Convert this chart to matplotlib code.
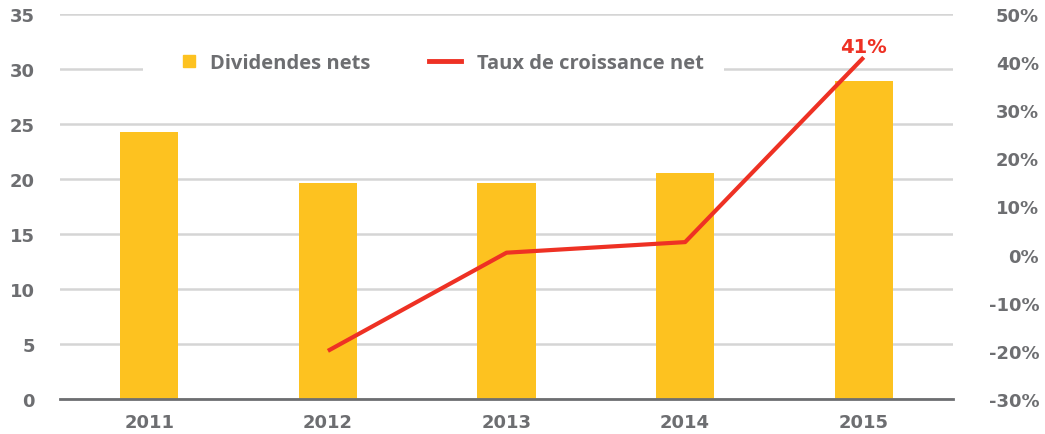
import matplotlib
matplotlib.use('Agg')
import matplotlib.pyplot as plt
from matplotlib.lines import Line2D
from matplotlib.patches import Patch, Rectangle
from matplotlib.legend_handler import HandlerPatch

years = ['2011', '2012', '2013', '2014', '2015']
dividendes = [24.3, 19.6, 19.6, 20.5, 28.9]
croissance_years = ['2012', '2013', '2014', '2015']
croissance = [-20.0, 0.4, 2.6, 41.0]

yellow = '#FDC220'
red = '#EE3124'
grey = '#6D6E71'
grid_grey = '#D5D5D5'

plt.rcParams['font.family'] = ['DejaVu Sans']

fig = plt.figure(figsize=(10.45, 4.35), dpi=100)
ax = fig.add_axes([0.0574, 0.0805, 0.8546, 0.885])

x = list(range(len(years)))
ax.bar(x, dividendes, width=0.325, color=yellow, zorder=2)
ax.set_xlim(-0.5, len(years) - 0.5)
ax.set_ylim(0, 35)
ax.set_yticks(range(0, 36, 5))
ax.set_xticks(x)
ax.set_xticklabels(years)
ax.grid(axis='y', color=grid_grey, linewidth=1.8, zorder=0)
ax.set_axisbelow(True)
for s in ['top', 'right', 'left']:
    ax.spines[s].set_visible(False)
ax.spines['bottom'].set_color(grey)
ax.spines['bottom'].set_linewidth(2)
ax.spines['bottom'].set_zorder(3)
ax.tick_params(axis='both', length=0, colors=grey, labelsize=13)
ax.tick_params(axis='y', pad=18)
ax.tick_params(axis='x', pad=10)
for lab in ax.get_xticklabels() + ax.get_yticklabels():
    lab.set_fontweight('bold')
    lab.set_color(grey)

# growth rate on the secondary axis
ax2 = ax.twinx()
xc = [years.index(y) for y in croissance_years]
ax2.plot(xc, croissance, color=red, linewidth=3, solid_capstyle='butt', zorder=4)
ax2.set_ylim(-30, 50)
ax2.set_yticks(range(-30, 51, 10))
ax2.set_yticklabels([f'{v}%' for v in range(-30, 51, 10)])
for s in ['top', 'right', 'left', 'bottom']:
    ax2.spines[s].set_visible(False)
ax2.tick_params(axis='y', length=0, colors=grey, labelsize=13, pad=62)
for lab in ax2.get_yticklabels():
    lab.set_fontweight('bold')
    lab.set_color(grey)
    lab.set_horizontalalignment('right')

ax2.annotate(f'{croissance[-1]:.0f}%', (xc[-1], croissance[-1]),
             xytext=(0, 1), textcoords='offset points', ha='center', va='bottom',
             color=red, fontsize=14, fontweight='bold')


def square_handle(legend, orig_handle, xdescent, ydescent, width, height, fontsize):
    # small square pushed to the right end of the handle box
    s = 8.6
    return Rectangle((-xdescent + width - s, -ydescent + (height - s) / 2), s, s)


handles = [Patch(color=yellow), Line2D([], [], color=red, linewidth=3.5)]
leg = ax2.legend(handles, ['Dividendes nets', 'Taux de croissance net'],
                 handler_map={Patch: HandlerPatch(patch_func=square_handle)},
                 loc='center left', bbox_to_anchor=(143 / 1045, 1 - 64 / 435),
                 bbox_transform=fig.transFigure, ncol=2, frameon=True,
                 facecolor='white', edgecolor='none', framealpha=1,
                 handlelength=1.6, handletextpad=0.75,
                 columnspacing=2.9, borderpad=1.0, borderaxespad=0,
                 prop={'family': ['Open Sans', 'DejaVu Sans'], 'weight': 'bold', 'size': 14.5})
for t in leg.get_texts():
    t.set_color(grey)
leg.get_frame().set_boxstyle('square', pad=0)

fig.savefig('out.png', dpi=100)
plt.close(fig)
